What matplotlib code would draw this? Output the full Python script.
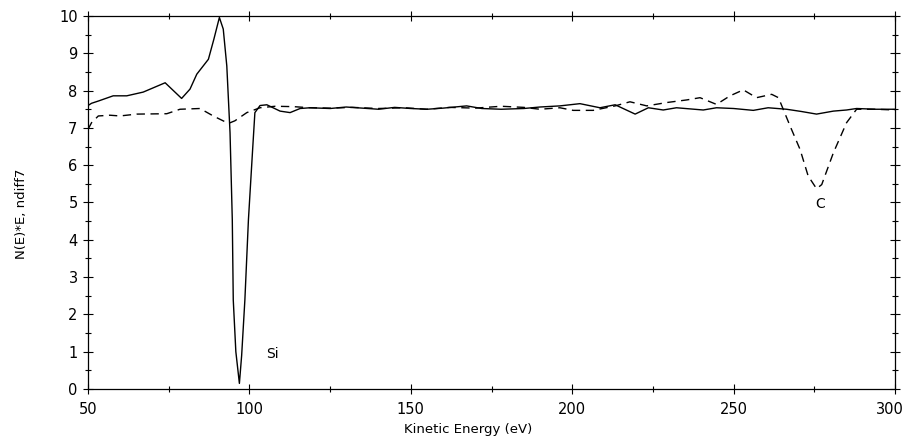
"""Auger spectrum (N(E)*E, ndiff7) versus kinetic energy: Si and C traces."""
import os

os.environ.setdefault("MPLBACKEND", "Agg")

import matplotlib.pyplot as plt
import matplotlib.transforms as mtransforms
from matplotlib.ticker import MultipleLocator

# solid trace (Si)
si_energy = [50, 51.1, 53.2, 57.8, 62, 67.1, 73.9, 79.0, 81.6, 83.7, 87.3, 89.0, 90.7,
             91.9, 93.0, 94.0, 94.7, 95.0, 95.8, 96.9, 97.6, 98.6, 99.7, 101.0, 101.7,
             103.3, 105.4, 109.5, 112.6, 115.7, 118.8, 125, 130, 135, 140, 145, 150,
             155, 160, 167.3, 172, 178, 185, 190, 196.2, 202.4, 208.6, 213.3, 219.5,
             223.6, 228.2, 232.3, 240.6, 244.7, 250, 256.1, 260.7, 266.4, 271, 275.7,
             280.9, 285, 288.1, 294, 300]
si_signal = [7.6, 7.66, 7.72, 7.86, 7.86, 7.96, 8.21, 7.79, 8.04, 8.44, 8.84, 9.38, 9.96,
             9.65, 8.66, 6.87, 4.54, 2.39, 1.0, 0.15, 0.9, 2.39, 4.54, 6.42, 7.41,
             7.6, 7.62, 7.45, 7.41, 7.52, 7.54, 7.52, 7.56, 7.53, 7.5, 7.55, 7.52,
             7.5, 7.53, 7.59, 7.52, 7.5, 7.52, 7.56, 7.59, 7.65, 7.54, 7.62, 7.37,
             7.54, 7.48, 7.54, 7.48, 7.54, 7.52, 7.47, 7.54, 7.5, 7.44, 7.37,
             7.45, 7.48, 7.52, 7.5, 7.5]

# dashed trace (C)
c_energy = [50, 51.1, 53.2, 56.8, 59.9, 65.1, 74.4, 78.5, 84.7, 88.8, 93.5, 95.5, 99.2,
            103.3, 108, 113.6, 118.8, 125, 132, 140, 148, 155, 162, 170, 178, 185,
            190, 196.2, 200.3, 206.5, 213.3, 217.9, 223.1, 229.3, 235.5, 239.6, 244.7,
            248.9, 253.0, 257.1, 261.8, 263.9, 267.5, 270.6, 273.1, 275.7, 277.3,
            280.9, 285.0, 288.1, 294, 300]
c_signal = [6.96, 7.14, 7.32, 7.34, 7.32, 7.37, 7.38, 7.5, 7.52, 7.32, 7.12, 7.19, 7.41,
            7.54, 7.58, 7.57, 7.54, 7.53, 7.55, 7.52, 7.54, 7.5, 7.55, 7.53, 7.58, 7.55,
            7.5, 7.54, 7.47, 7.47, 7.59, 7.70, 7.59, 7.68, 7.75, 7.81, 7.63,
            7.86, 8.02, 7.81, 7.90, 7.81, 7.05, 6.42, 5.71, 5.37, 5.48,
            6.33, 7.14, 7.5, 7.5, 7.48]

x_ticks = [50, 100, 150, 200, 250, 300]
x_ticklabels = ["50", "100", "150", "200", "250", "300"]

fig = plt.figure(figsize=(9.04, 4.37), dpi=100)
ax = fig.add_axes([88 / 904, 48 / 437, 807 / 904, 373 / 437])

ax.plot(si_energy, si_signal, color="black", lw=1.0)
ax.plot(c_energy, c_signal, color="black", lw=1.0, dashes=(6, 4))

ax.text(107, 0.95, "Si", fontsize=10, ha="center", va="center")
ax.text(276.8, 4.95, "C", fontsize=10, ha="center", va="center")

ax.set_xlim(50, 300)
ax.set_ylim(0, 10)
ax.set_xticks(x_ticks, x_ticklabels)
ax.xaxis.set_minor_locator(MultipleLocator(25))
ax.yaxis.set_major_locator(MultipleLocator(1))
ax.yaxis.set_minor_locator(MultipleLocator(0.5))
ax.tick_params(which="both", direction="inout", top=True, right=True,
               labelsize=10.5, width=0.8)
ax.tick_params(which="major", length=7, pad=4)
ax.tick_params(axis="x", which="major", pad=6)
ax.tick_params(which="minor", length=5)
for sp in ax.spines.values():
    sp.set_linewidth(0.9)

# last label sits at the figure edge; nudge it in so it is not clipped
last = ax.get_xticklabels()[-1]
last.set_transform(last.get_transform()
                   + mtransforms.ScaledTranslation(-5 / 100, 0, fig.dpi_scale_trans))

ax.set_xlabel("Kinetic Energy (eV)", fontsize=9.5)
ax.set_ylabel("N(E)*E, ndiff7", fontsize=9.5)
ax.xaxis.set_label_coords(0.471, -0.09)
ax.yaxis.set_label_coords(-0.074, 0.47)

fig.savefig("out.png", dpi=100)
